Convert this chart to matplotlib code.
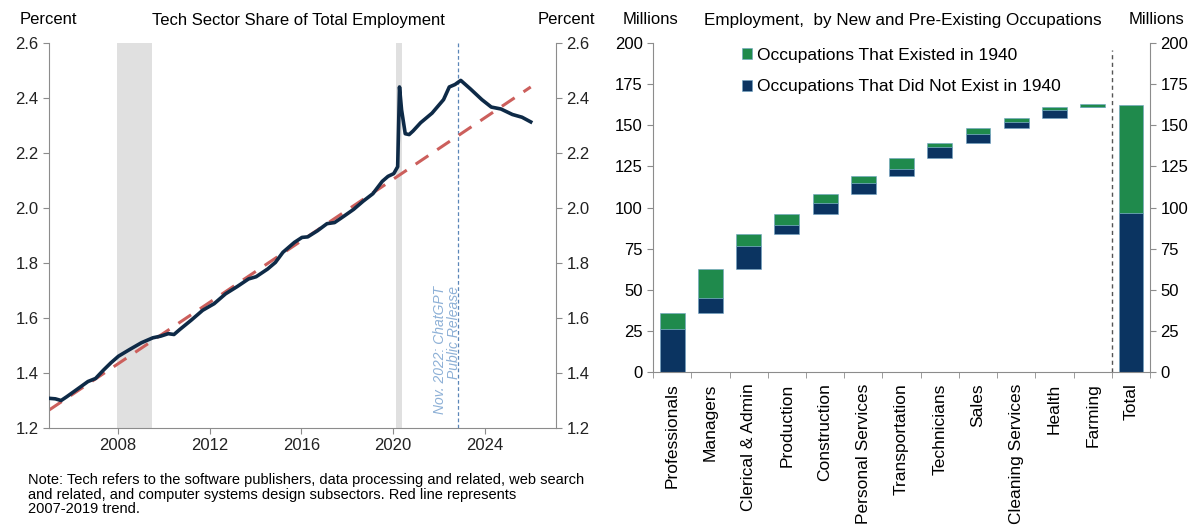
import matplotlib.pyplot as plt
import numpy as np

plt.rcParams['font.family'] = ['Liberation Sans', 'DejaVu Sans']

# tech sector share of total employment (percent)
years = [2005.0, 2005.28, 2005.53, 2005.78, 2006.2, 2006.7, 2007.03, 2007.37, 2007.7,
         2008.03, 2008.53, 2009.03, 2009.53, 2009.87, 2010.2, 2010.45, 2010.7, 2011.2,
         2011.7, 2012.2, 2012.7, 2013.2, 2013.7, 2014.03, 2014.53, 2014.87, 2015.2,
         2015.7, 2016.03, 2016.28, 2016.7, 2017.12, 2017.45, 2017.87, 2018.28, 2018.7,
         2019.12, 2019.53, 2019.78, 2020.03, 2020.2, 2020.28, 2020.37, 2020.53, 2020.7,
         2020.87, 2021.2, 2021.7, 2022.2, 2022.45, 2022.7, 2022.95, 2023.37, 2023.87,
         2024.28, 2024.7, 2025.2, 2025.62, 2026.0]
share = [1.308, 1.306, 1.300, 1.314, 1.339, 1.369, 1.380, 1.410, 1.437,
         1.461, 1.486, 1.510, 1.528, 1.534, 1.543, 1.540, 1.558, 1.592,
         1.628, 1.652, 1.688, 1.714, 1.742, 1.750, 1.778, 1.802, 1.839,
         1.875, 1.893, 1.895, 1.917, 1.943, 1.947, 1.971, 1.995, 2.025,
         2.052, 2.097, 2.115, 2.125, 2.150, 2.440, 2.357, 2.270, 2.267,
         2.280, 2.310, 2.345, 2.394, 2.440, 2.449, 2.464, 2.433, 2.394,
         2.367, 2.360, 2.340, 2.330, 2.313]
trend_years = [2005.0, 2026.0]
trend_share = [1.265, 2.44]
recessions = [(2007.95, 2009.5), (2020.12, 2020.37)]
chatgpt_date = 2022.83

# employment by occupation (millions)
occupations = ['Professionals', 'Managers', 'Clerical & Admin', 'Production', 'Construction',
               'Personal Services', 'Transportation', 'Technicians', 'Sales',
               'Cleaning Services', 'Health', 'Farming']
did_not_exist = [26, 9, 14, 5.5, 7, 6.7, 4.1, 6.6, 5.6, 4.0, 4.9, 0]
existed = [10, 18, 7, 6.6, 5.1, 4.6, 6.5, 2.5, 3.5, 2.2, 2.0, 1.5]
total_did_not_exist = 97
total_existed = 65.3

navy = '#0b3461'
green = '#1f8a4c'
grey = '#8c8c8c'
fs = 12

fig = plt.figure(figsize=(12, 5.28), dpi=100)

# ---- left panel: tech share line ----
ax1 = fig.add_axes([0.0408, 0.1894, 0.4225, 0.7292])
for start, end in recessions:
    ax1.axvspan(start, end, color='#e0e0e0', lw=0, zorder=0)
ax1.plot(trend_years, trend_share, color='#cc5f5c', lw=2.2, dashes=(5, 3.5), zorder=2)
ax1.plot(years, share, color='#0e2a47', lw=2.6, zorder=3)
ax1.axvline(chatgpt_date, color='#5b86b8', lw=0.9, dashes=(3, 2), zorder=1)
ax1.text(chatgpt_date + 0.12, 1.25, 'Nov. 2022: ChatGPT\nPublic Release', rotation=90,
         ha='right', va='bottom', fontsize=10, style='italic', color='#8db0d6',
         linespacing=0.95)
ax1.set_xlim(2005.0, 2027.1)
ax1.set_ylim(1.2, 2.6)
ax1.set_xticks([2008, 2012, 2016, 2020, 2024])
ax1.set_yticks(np.arange(1.2, 2.61, 0.2))
ax1.yaxis.set_major_formatter(plt.FormatStrFormatter('%.1f'))
ax1.tick_params(axis='both', labelsize=fs, color=grey, length=4, labelcolor='#222222')
ax1.tick_params(axis='y', right=True, labelright=True)
ax1.spines['top'].set_visible(False)
for s in ['left', 'right', 'bottom']:
    ax1.spines[s].set_color(grey)

fig.text(48 / 1200, 1 - 20 / 528, 'Percent', ha='center', va='center', fontsize=fs)
fig.text(566 / 1200, 1 - 20 / 528, 'Percent', ha='center', va='center', fontsize=fs)
fig.text(298 / 1200, 1 - 20 / 528, 'Tech Sector Share of Total Employment',
         ha='center', va='center', fontsize=fs)
fig.text(28 / 1200, 1 - 473 / 528,
         'Note: Tech refers to the software publishers, data processing and related, web search\n'
         'and related, and computer systems design subsectors. Red line represents\n'
         '2007-2019 trend.', ha='left', va='top', fontsize=10.5, linespacing=1.05)

# ---- right panel: waterfall of occupations ----
ax2 = fig.add_axes([0.5442, 0.2949, 0.4142, 0.6237])
x = np.arange(len(occupations))
ends = np.cumsum(np.array(did_not_exist) + np.array(existed))
starts = ends - np.array(did_not_exist) - np.array(existed)
width = 0.65
ax2.bar(x, did_not_exist, width, bottom=starts, color=navy, edgecolor='#6fa3c4', lw=0.4)
ax2.bar(x, existed, width, bottom=starts + np.array(did_not_exist), color=green,
        edgecolor='#6fa3c4', lw=0.4)
xt = len(occupations)
ax2.bar(xt, total_did_not_exist, width, color=navy, edgecolor='#6fa3c4', lw=0.4,
        label='Occupations That Did Not Exist in 1940')
ax2.bar(xt, total_existed, width, bottom=total_did_not_exist, color=green,
        edgecolor='#6fa3c4', lw=0.4, label='Occupations That Existed in 1940')
ax2.axvline(xt - 0.5, ymax=0.98, color='#555555', lw=1.0, dashes=(3, 2.5))

ax2.set_xlim(-0.5, xt + 0.5)
ax2.set_ylim(0, 200)
ax2.set_yticks(range(0, 201, 25))
ax2.set_xticks(np.arange(xt + 1))
ax2.set_xticklabels(occupations + ['Total'], rotation=90, fontsize=12.5)
ax2.set_xticks(np.arange(-0.5, xt + 0.6, 1), minor=True)
ax2.tick_params(axis='x', which='major', length=0, pad=8)
ax2.tick_params(axis='x', which='minor', length=4, color=grey)
ax2.tick_params(axis='y', labelsize=fs, color=grey, length=4, right=True, labelright=True)
ax2.spines['top'].set_visible(False)
for s in ['left', 'right', 'bottom']:
    ax2.spines[s].set_color(grey)

h, l = ax2.get_legend_handles_labels()
ax2.legend(h[::-1], l[::-1], loc='upper left', bbox_to_anchor=(0.178, 0.985), frameon=False,
           fontsize=12.5, handlelength=0.6, handleheight=0.6, handletextpad=0.3,
           labelspacing=0.95, borderpad=0, borderaxespad=0)

fig.text(650 / 1200, 1 - 20 / 528, 'Millions', ha='center', va='center', fontsize=fs)
fig.text(1157 / 1200, 1 - 20 / 528, 'Millions', ha='center', va='center', fontsize=fs)
fig.text(903 / 1200, 1 - 20 / 528, 'Employment,  by New and Pre-Existing Occupations',
         ha='center', va='center', fontsize=12.3)

fig.savefig('out.png', dpi=100)
